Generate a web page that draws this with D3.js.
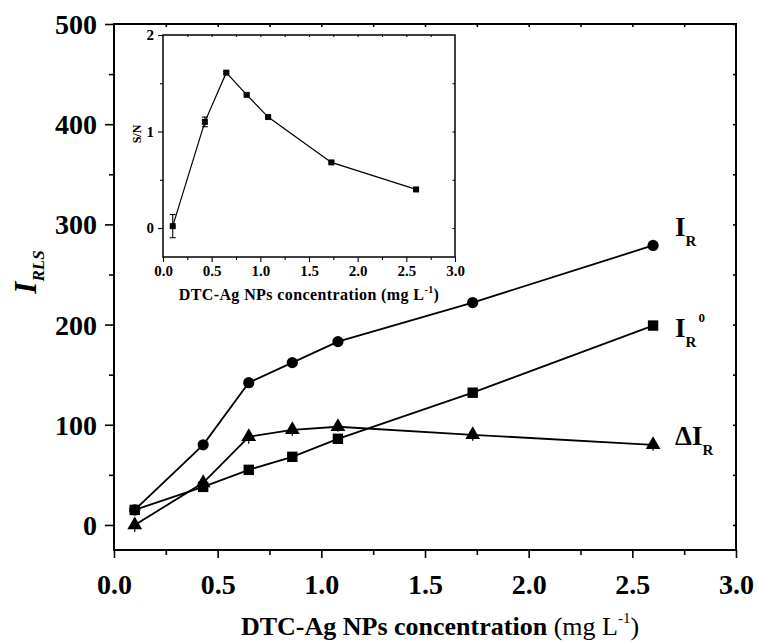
<!DOCTYPE html>
<html><head><meta charset="utf-8">
<script src="https://cdn.jsdelivr.net/npm/d3@7"></script>
<style>
body{margin:0;background:#fff;}
text{font-family:"Liberation Serif","Times New Roman",serif;}
</style></head>
<body><svg id="c" width="758" height="642"></svg>
<script>
// ---- data ----
const conc = [0.10, 0.43, 0.65, 0.86, 1.08, 1.73, 2.60];
const IR   = [15, 80, 142, 162, 183, 222, 279];
const IR0  = [15, 38, 55, 68, 86, 132, 199];
const dIR  = [0, 42, 88, 95, 98, 90, 80];
const dIRerr = [7, 5, 7, 6, 5, 6, 6];
const snConc = [0.10, 0.43, 0.65, 0.86, 1.08, 1.73, 2.60];
const SN   = [0.02, 1.10, 1.61, 1.38, 1.15, 0.68, 0.40];
const SNerr = [0.12, 0.05, 0.01, 0.01, 0.01, 0.01, 0.01];
const xTicks = [0, 0.5, 1.0, 1.5, 2.0, 2.5, 3.0];
const yTicks = [0, 100, 200, 300, 400, 500];
const insetXTicks = [0, 0.5, 1.0, 1.5, 2.0, 2.5, 3.0];
const insetYTicks = [0, 1, 2];

const svg = d3.select("#c");
const FONT = '"Liberation Serif","Times New Roman",serif';

// ---- main scales ----
const X0=114, X1=736, Y0=550, Y1=24;
const x = d3.scaleLinear().domain([0,3]).range([X0,X1]);
const y = d3.scaleLinear().domain([-25,500]).range([Y0,Y1]);

const g = svg.append("g");
g.append("rect").attr("x",X0).attr("y",Y1).attr("width",X1-X0).attr("height",Y0-Y1)
 .attr("fill","none").attr("stroke","#000").attr("stroke-width",2);

function styleAxis(sel, fs){
  sel.select(".domain").remove();
  sel.selectAll("line").attr("stroke","#000").attr("stroke-width",1.6);
  sel.selectAll("text").attr("font-family",FONT).attr("font-weight","bold").attr("font-size",fs).attr("fill","#000");
}
const xa = g.append("g").attr("transform",`translate(0,${Y0})`)
  .call(d3.axisBottom(x).tickValues(xTicks).tickSize(8).tickPadding(6).tickFormat(d3.format(".1f")));
styleAxis(xa,28);
xa.selectAll("text").attr("dy",null).attr("y",44);
const xm = g.append("g").attr("transform",`translate(0,${Y0})`)
  .call(d3.axisBottom(x).tickValues(d3.range(0.25,3,0.5)).tickSize(5).tickFormat(""));
styleAxis(xm,28);
const xt = g.append("g").attr("transform",`translate(0,${Y1})`)
  .call(d3.axisBottom(x).tickValues(d3.range(0.25,3,0.25)).tickSize(3).tickFormat(""));
styleAxis(xt,28);
const ya = g.append("g").attr("transform",`translate(${X0},0)`)
  .call(d3.axisLeft(y).tickValues(yTicks).tickSize(9).tickPadding(8));
styleAxis(ya,28);
ya.selectAll("text").attr("dy","0.34em");
const ym = g.append("g").attr("transform",`translate(${X0},0)`)
  .call(d3.axisLeft(y).tickValues(d3.range(50,500,100)).tickSize(5).tickFormat(""));
styleAxis(ym,28);
const yr = g.append("g").attr("transform",`translate(${X1},0)`)
  .call(d3.axisLeft(y).tickValues(d3.range(0,501,50)).tickSize(3).tickFormat(""));
styleAxis(yr,28);

// ---- series ----
const line = d3.line().x(d=>x(d[0])).y(d=>y(d[1]));
function series(vals){ return conc.map((c,i)=>[c,vals[i]]); }
[IR, IR0, dIR].forEach(v=>{
  g.append("path").attr("d",line(series(v))).attr("fill","none").attr("stroke","#000").attr("stroke-width",1.8);
});
g.selectAll(".eb").data(series(dIR)).join("line")
 .attr("x1",d=>x(d[0])).attr("x2",d=>x(d[0]))
 .attr("y1",(d,i)=>y(d[1]-dIRerr[i])).attr("y2",(d,i)=>y(d[1]+dIRerr[i]))
 .attr("stroke","#000").attr("stroke-width",1.2);
g.selectAll(".ci").data(series(IR)).join("circle")
 .attr("cx",d=>x(d[0])).attr("cy",d=>y(d[1])).attr("r",5.6).attr("fill","#000");
g.selectAll(".sq").data(series(IR0)).join("rect")
 .attr("x",d=>x(d[0])-5.2).attr("y",d=>y(d[1])-5.2).attr("width",10.4).attr("height",10.4).attr("fill","#000");
const tri = d3.symbol().type(d3.symbolTriangle).size(95);
g.selectAll(".tr").data(series(dIR)).join("path")
 .attr("d",tri).attr("transform",d=>`translate(${x(d[0])},${y(d[1])})`).attr("fill","#000");

const lx = x(conc[conc.length-1]) + 22;
function seriesLabel(yBase, prefix, sup){
  const t = g.append("text").attr("x",lx).attr("y",yBase).attr("font-family",FONT)
    .attr("font-weight","bold").attr("font-size",27).attr("fill","#000");
  t.append("tspan").text(prefix+"I");
  t.append("tspan").attr("font-size",15).attr("dy",10).text("R");
  if(sup){ t.append("tspan").attr("font-size",13).attr("dy",-25).attr("dx",2).text(sup); }
}
seriesLabel(y(IR[IR.length-1])-9, "", null);
seriesLabel(y(IR0[IR0.length-1])+11, "", "0");
seriesLabel(y(dIR[dIR.length-1])+0, "\u0394", null);

// axis titles
const xt2 = svg.append("text").attr("x",(X0+X1)/2+15).attr("y",635).attr("text-anchor","middle")
  .attr("font-family",FONT).attr("font-size",26).attr("fill","#000");
xt2.append("tspan").attr("font-weight","bold").text("DTC-Ag NPs concentration");
xt2.append("tspan").text(" (mg L");
xt2.append("tspan").attr("font-size",15).attr("dy",-12).text("-1");
xt2.append("tspan").attr("dy",12).text(")");

const yt = svg.append("text").attr("transform","translate(36,272) rotate(-90)").attr("text-anchor","middle")
  .attr("font-family",FONT).attr("font-weight","bold").attr("font-style","italic").attr("fill","#000");
yt.append("tspan").attr("font-size",31).text("I");
yt.append("tspan").attr("font-size",17).attr("dy",8).text("RLS");

// ---- inset ----
const IX0=163, IX1=455, IY0=257, IY1=35;
const xi = d3.scaleLinear().domain([0,3]).range([IX0,IX1]);
const yi = d3.scaleLinear().domain([-0.3,2]).range([IY0,IY1]);
const gi = svg.append("g");
gi.append("rect").attr("x",IX0).attr("y",IY1).attr("width",IX1-IX0).attr("height",IY0-IY1)
  .attr("fill","#fff").attr("stroke","#000").attr("stroke-width",1.5);
function styleI(sel){
  sel.select(".domain").remove();
  sel.selectAll("line").attr("stroke","#000").attr("stroke-width",1.1);
  sel.selectAll("text").attr("font-family",FONT).attr("font-weight","bold").attr("font-size",15).attr("fill","#000");
}
const ixa = gi.append("g").attr("transform",`translate(0,${IY0})`)
  .call(d3.axisBottom(xi).tickValues(insetXTicks).tickSize(5).tickPadding(3).tickFormat(d3.format(".1f")));
styleI(ixa);
const ixm = gi.append("g").attr("transform",`translate(0,${IY0})`)
  .call(d3.axisBottom(xi).tickValues(d3.range(0.25,3,0.5)).tickSize(3).tickFormat(""));
styleI(ixm);
const ixt = gi.append("g").attr("transform",`translate(0,${IY1})`)
  .call(d3.axisBottom(xi).tickValues(d3.range(0.25,3,0.25)).tickSize(2).tickFormat(""));
styleI(ixt);
const iya = gi.append("g").attr("transform",`translate(${IX0},0)`)
  .call(d3.axisLeft(yi).tickValues(insetYTicks).tickSize(5).tickPadding(4).tickFormat(d3.format("d")));
styleI(iya);
const iym = gi.append("g").attr("transform",`translate(${IX0},0)`)
  .call(d3.axisLeft(yi).tickValues([0.5,1.5]).tickSize(3).tickFormat(""));
styleI(iym);
const iyr = gi.append("g").attr("transform",`translate(${IX1},0)`)
  .call(d3.axisLeft(yi).tickValues([0,0.5,1,1.5]).tickSize(2.5).tickFormat(""));
styleI(iyr);

const sn = snConc.map((c,i)=>[c,SN[i]]);
gi.append("path").attr("d",d3.line().x(d=>xi(d[0])).y(d=>yi(d[1]))(sn))
  .attr("fill","none").attr("stroke","#000").attr("stroke-width",1.2);
sn.forEach((d,i)=>{
  const cx=xi(d[0]), t=yi(d[1]+SNerr[i]), b=yi(d[1]-SNerr[i]);
  gi.append("line").attr("x1",cx).attr("x2",cx).attr("y1",t).attr("y2",b).attr("stroke","#000").attr("stroke-width",1.1);
  gi.append("line").attr("x1",cx-3).attr("x2",cx+3).attr("y1",t).attr("y2",t).attr("stroke","#000").attr("stroke-width",1.1);
  gi.append("line").attr("x1",cx-3).attr("x2",cx+3).attr("y1",b).attr("y2",b).attr("stroke","#000").attr("stroke-width",1.1);
});
gi.selectAll(".isq").data(sn).join("rect")
  .attr("x",d=>xi(d[0])-3).attr("y",d=>yi(d[1])-3).attr("width",6).attr("height",6).attr("fill","#000");

const ixl = gi.append("text").attr("x",(IX0+IX1)/2).attr("y",300).attr("text-anchor","middle")
  .attr("font-family",FONT).attr("font-weight","bold").attr("font-size",16).attr("fill","#000")
  .attr("letter-spacing",0.4);
ixl.append("tspan").text("DTC-Ag NPs concentration (mg L");
ixl.append("tspan").attr("font-size",10).attr("dy",-7).text("-1");
ixl.append("tspan").attr("dy",7).text(")");

gi.append("text").attr("transform",`translate(141,${(IY0+IY1)/2-12}) rotate(-90)`).attr("text-anchor","middle")
  .attr("font-family",FONT).attr("font-weight","bold").attr("font-size",12).attr("fill","#000").text("S/N");
</script></body></html>
